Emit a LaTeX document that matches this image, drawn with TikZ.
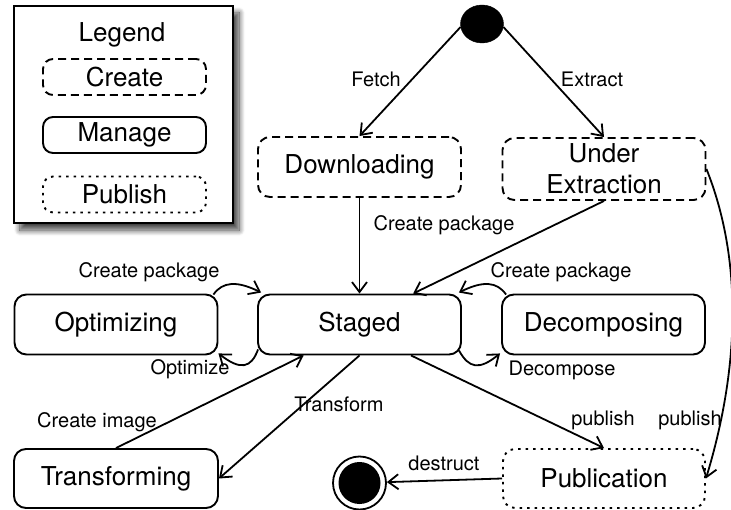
\documentclass[tikz,border=0pt]{standalone}
\usepackage{fontspec}
\setmainfont{TeX Gyre Heros}
\usetikzlibrary{arrows.meta,shapes.geometric,shadows.blur}
\begin{document}
\begin{tikzpicture}[x=1pt,y=-1pt,
	state/.style={draw,rounded corners=12pt,line width=1.9pt,minimum width=203pt,minimum height=60pt,
		inner sep=0pt,align=center,font=\fontsize{26}{31}\selectfont},
	createbox/.style={state,dash pattern=on 8pt off 5pt},
	publbox/.style={state,dash pattern=on 2.5pt off 5pt},
	keybox/.style={minimum width=163pt,minimum height=36pt,rounded corners=10pt},
	arr/.style={-{Straight Barb[length=10pt,width=15pt]},line width=1.8pt},
	lbl/.style={font=\fontsize{20}{22}\selectfont,inner sep=0pt,anchor=base}]
	\useasboundingbox (0,0) rectangle (731,510);
	% legend
	\node[draw,line width=2.4pt,fill=white,minimum width=219pt,minimum height=217pt,
		blur shadow={shadow xshift=6pt,shadow yshift=-7pt,shadow blur radius=6pt,shadow opacity=75,shadow blur steps=12}] (legend) at (123.5,114.5) {};
	\node[lbl,font=\fontsize{26}{31}\selectfont] (legendtitle) at (122,42) {Legend};
	\node[createbox,keybox] (keycreate) at (124.5,77) {Create};
	\node[state,keybox] (keymanage) at (124.5,135) {Manage};
	\node[publbox,keybox] (keypublish) at (124.5,194.5) {Publish};
	% states
	\node[draw,fill,ellipse,minimum width=43pt,minimum height=38pt,inner sep=0pt] (init) at (482,24) {};
	\node[createbox] (dl) at (359.5,167) {Downloading};
	\node[createbox,minimum height=62pt] (ue) at (604,169) {Under\\Extraction};
	\node[state] (st) at (359.5,324.5) {Staged};
	\node[state] (opt) at (116,324.5) {Optimizing};
	\node[state] (dec) at (603.5,324.5) {Decomposing};
	\node[state,minimum width=204pt,minimum height=59pt] (tr) at (116,478.5) {Transforming};
	\node[publbox,minimum width=202pt,minimum height=59pt] (pub) at (604,478.5) {Publication};
	\node[draw,circle,line width=1.8pt,minimum size=53pt,inner sep=0pt,
		path picture={\fill (path picture bounding box.center) circle (21pt);}] (fin) at (359.5,483) {};
	% transitions
	\draw[arr] (init.188) -- (dl.north) node[lbl] at (376,87) {Fetch};
	\draw[arr] (init.352) -- (ue.north) node[lbl] at (592,87) {Extract};
	\draw[arr] (dl.south) -- (st.north) node[lbl] at (444,231) {Create package};
	\draw[arr] (ue.south) -- (st.30);
	\draw[arr] ([xshift=-5pt,yshift=-1pt]opt.north east) .. controls +(9,-13) and +(-24,-12) .. ([xshift=4pt,yshift=1pt]st.north west)
		node[lbl] at (149,278) {Create package};
	\draw[arr] ([xshift=1pt,yshift=6pt]st.south west) .. controls +(-7,19) and +(22,17) .. ([yshift=2pt]opt.south east)
		node[lbl] at (190,375) {Optimize};
	\draw[arr] ([xshift=5pt,yshift=-1pt]dec.north west) .. controls +(-9,-13) and +(24,-12) .. ([xshift=-3pt,yshift=1pt]st.north east)
		node[lbl] at (561,278) {Create package};
	\draw[arr] ([xshift=-3pt,yshift=5pt]st.south east) .. controls +(10,18) and +(-21,17) .. ([xshift=-1pt,yshift=2pt]dec.south west)
		node[lbl] at (562,376) {Decompose};
	\draw[arr] (tr.north) -- (st.209) node[lbl] at (97,428) {Create image};
	\draw[arr] (st.south) -- (tr.east) node[lbl] at (339,412) {Transform};
	\draw[arr] (st.329) -- (pub.north) node[lbl] at (603,425) {publish};
	\draw[arr] (ue.east) .. controls +(36,90) and +(34,-112) .. (pub.east) node[lbl] at (690,425) {publish};
	\draw[arr] (pub.west) -- (fin) node[lbl] at (444,470) {destruct};
\end{tikzpicture}
\end{document}
